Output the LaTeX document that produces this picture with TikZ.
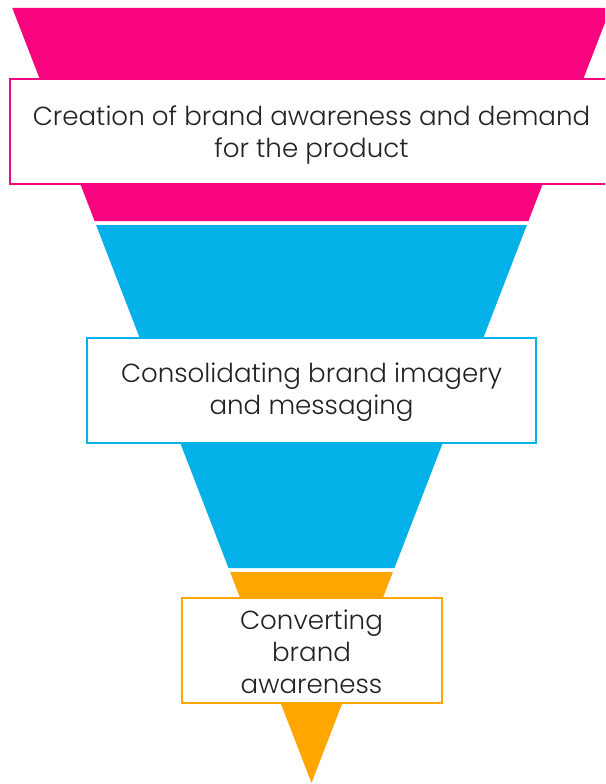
\documentclass[tikz,border=0pt]{standalone}
\usepackage{fontspec}
\setmainfont{Poppins}[UprightFont={* Light}]
\definecolor{funnelpink}{RGB}{248,4,126}
\definecolor{funnelblue}{RGB}{4,177,233}
\definecolor{funnelorange}{RGB}{255,166,0}
\definecolor{labeltext}{RGB}{34,34,34}
\begin{document}
\begin{tikzpicture}[x=1pt,y=-1pt,
  stagebox/.style={draw=#1, fill=white, line width=2pt, inner sep=0pt},
  stagetext/.style={inner sep=0pt, align=center, text=labeltext,
    font=\fontsize{26.1}{32}\selectfont}]
\useasboundingbox (0,0) rectangle (605,784);
\clip (0,0) rectangle (605,784);
% funnel layers
\fill[funnelpink] (12.3,8) -- (610.7,8) -- (528.4,221) -- (94.6,221) -- cycle;
\fill[funnelblue] (96.1,225) -- (526.9,225) -- (394.5,568) -- (228.5,568) -- cycle;
\fill[funnelorange] (230.1,572) -- (392.9,572) -- (311.5,783) -- cycle;
% stage boxes
\node[stagebox=funnelpink, minimum width=603, minimum height=105] (awareness) at (311.5,131.5) {};
\node[stagebox=funnelblue, minimum width=449, minimum height=105] (imagery) at (311.5,390.5) {};
\node[stagebox=funnelorange, minimum width=260, minimum height=105] (convert) at (311.5,650.5) {};
% stage labels
\node[stagetext] (awarenesslabel) at ([yshift=-3pt]awareness.center)
  {Creation of brand awareness and demand\\for the product};
\node[stagetext] (imagerylabel) at ([yshift=-2pt]imagery.center)
  {Consolidating brand imagery\\and messaging};
\node[stagetext] (convertlabel) at ([yshift=-1pt]convert.center)
  {Converting\\brand\\awareness};
\end{tikzpicture}
\end{document}
